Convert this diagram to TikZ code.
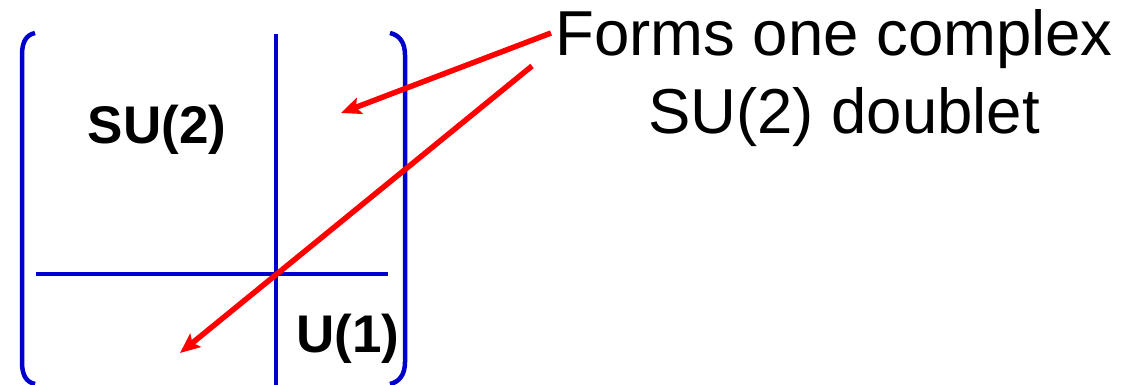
\documentclass[tikz,border=0pt]{standalone}
\usepackage{fontspec}
\setmainfont{Liberation Sans}
\usetikzlibrary{arrows.meta}
\definecolor{mblue}{RGB}{0,0,204}
\begin{document}
\begin{tikzpicture}[x=1pt,y=-1pt,
  bracket/.style={draw=mblue,line width=4.5pt},
  divider/.style={draw=mblue,line width=4.5pt},
  pointer/.style={draw=red,line width=5.5pt,-{Stealth[length=20pt,width=17pt,inset=4pt]}},
  blocklabel/.style={font=\fontsize{53}{60}\selectfont\bfseries,anchor=base,inner sep=0pt},
  caption/.style={font=\fontsize{63.5}{74}\selectfont,anchor=base,inner sep=0pt}]
\useasboundingbox[fill=white] (0,0) rectangle (1121,385);
% dividers
\coordinate (vt) at (276,34); \coordinate (vb) at (276,387);
\coordinate (hl) at (36,274); \coordinate (hr) at (388,274);
\draw[divider] (vt) -- (vb);
\draw[divider] (hl) -- (hr);
% brackets
\draw[bracket] (35,33) .. controls (26,35) and (22,42) .. (22,55) -- (22,362) .. controls (22,375) and (26,382) .. (35,384);
\draw[bracket] (390,33) .. controls (399,35) and (405,42) .. (405,55) -- (405,362) .. controls (405,375) and (399,382) .. (390,384);
% labels
\node[blocklabel] (su2) at (157,143) {SU(2)};
\node[blocklabel] (u1) at (348,352) {U(1)};
\node[caption] (cap1) at (834,56) {Forms one complex};
\node[caption] (cap2) at (844,134) {SU(2) doublet};
% arrows
\coordinate (a1s) at (551,33); \coordinate (a1e) at (341,113);
\coordinate (a2s) at (532,66); \coordinate (a2e) at (180,353);
\draw[pointer] (a1s) -- (a1e);
\draw[pointer] (a2s) -- (a2e);
\end{tikzpicture}
\end{document}
